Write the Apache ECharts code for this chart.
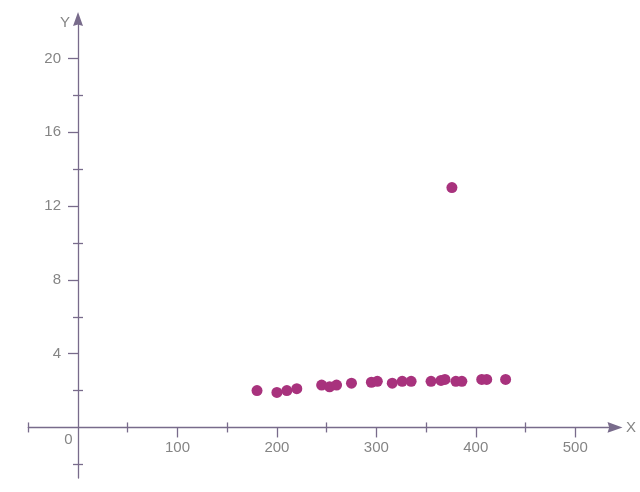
<!DOCTYPE html>
<html>
<head>
<meta charset="utf-8">
<script src="https://cdn.jsdelivr.net/npm/echarts@6/dist/echarts.min.js"></script>
<style>
html,body{margin:0;padding:0;background:#fff;}
#c{width:640px;height:492px;}
</style>
</head>
<body>
<div id="c"></div>
<script>
// ---- data ----
const xValues = [180, 200, 210, 220, 245, 253, 260, 275, 295, 301, 316, 326, 335, 355, 365, 369, 376, 380, 386, 406, 411, 430];
const yValues = [2.0, 1.9, 2.0, 2.1, 2.3, 2.2, 2.3, 2.4, 2.45, 2.5, 2.4, 2.5, 2.5, 2.5, 2.55, 2.6, 13.0, 2.5, 2.5, 2.6, 2.6, 2.6];
const xMajorTicks = [100, 200, 300, 400, 500];
const xMinorTicks = [-50, 50, 150, 250, 350, 450];
const yMajorTicks = [4, 8, 12, 16, 20];
const yMinorTicks = [-2, 2, 6, 10, 14, 18];
const xRange = [-50, 540];
const yRange = [-2.74, 22.14];
const originLabel = '0';
const xName = 'X';
const yName = 'Y';

const axisColor = '#786b8b';
const textColor = '#858585';
const font = 'Liberation Sans';
const arrow = 'path://M5,0L10,14L5,12.4L0,14Z';
const gridBox = { left: 28.3, right: 25, top: 19, bottom: 14 };

function baseAxis(range, extra) {
  return Object.assign({
    type: 'value', min: range[0], max: range[1],
    splitLine: { show: false },
    axisLabel: { show: false },
    axisLine: { show: false, onZero: true, onZeroAxisIndex: 0 },
    axisTick: { show: false }
  }, extra);
}

const points = xValues.map((x, i) => [x, yValues[i]]);

const chart = echarts.init(document.getElementById('c'), null, { renderer: 'canvas' });
const lineStyle = { color: axisColor, width: 1.3 };
chart.setOption({
  animation: false,
  backgroundColor: '#ffffff',
  grid: Object.assign({ containLabel: false, outerBoundsMode: 'none' }, gridBox),
  xAxis: [
    baseAxis(xRange, {
      position: 'bottom',
      name: xName, nameLocation: 'end', nameGap: 11,
      nameTextStyle: { color: textColor, fontFamily: font, fontSize: 15, align: 'left', verticalAlign: 'middle', padding: [25, 0, 0, 0] },
      axisLine: { show: true, onZero: true, onZeroAxisIndex: 0, symbol: ['none', arrow], symbolSize: [14, 15], lineStyle: lineStyle },
      axisTick: { show: true, length: 10, customValues: xMajorTicks, lineStyle: lineStyle }
    }),
    baseAxis(xRange, {
      position: 'bottom',
      axisTick: { show: true, length: 5, customValues: xMinorTicks, lineStyle: lineStyle }
    }),
    baseAxis(xRange, {
      position: 'bottom',
      axisTick: { show: true, inside: true, length: 5, customValues: xMinorTicks, lineStyle: lineStyle }
    })
  ],
  yAxis: [
    baseAxis(yRange, {
      position: 'left',
      name: yName, nameLocation: 'end', nameGap: -4,
      nameTextStyle: { color: textColor, fontFamily: font, fontSize: 15, align: 'right', verticalAlign: 'middle', padding: [0, 8, 0, 0] },
      axisLine: { show: true, onZero: true, onZeroAxisIndex: 0, symbol: ['none', arrow], symbolSize: [13, 14], lineStyle: lineStyle },
      axisTick: { show: true, length: 10, customValues: yMajorTicks, lineStyle: lineStyle }
    }),
    baseAxis(yRange, {
      position: 'left',
      axisTick: { show: true, length: 5, customValues: yMinorTicks, lineStyle: lineStyle }
    }),
    baseAxis(yRange, {
      position: 'left',
      axisTick: { show: true, inside: true, length: 5, customValues: yMinorTicks, lineStyle: lineStyle }
    })
  ],
  series: [{
    type: 'scatter',
    xAxisIndex: 0, yAxisIndex: 0,
    data: points,
    symbol: 'circle',
    symbolSize: 11,
    itemStyle: { color: '#a8327d', opacity: 1 },
    z: 5
  }]
});

// label-only axes placed on the zero lines
const o = chart.convertToPixel({ xAxisIndex: 0, yAxisIndex: 0 }, [0, 0]);
const H = chart.getHeight();
const xOffset = -((H - gridBox.bottom) - o[1]);
const yOffset = -(o[0] - gridBox.left);
const opt = chart.getOption();
const xs = opt.xAxis.slice();
const ys = opt.yAxis.slice();
xs.push(baseAxis(xRange, {
  position: 'bottom', offset: xOffset,
  axisLine: { show: false, onZero: false },
  axisLabel: { show: true, margin: 13, customValues: xMajorTicks, color: textColor, fontFamily: font, fontSize: 15 }
}));
ys.push(baseAxis(yRange, {
  position: 'left', offset: yOffset,
  axisLine: { show: false, onZero: false },
  axisLabel: { show: true, margin: 17, customValues: yMajorTicks, color: textColor, fontFamily: font, fontSize: 15 }
}));
chart.setOption({
  xAxis: xs,
  yAxis: ys,
  graphic: [{
    type: 'text', x: o[0] - 9.5, y: o[1] + 12.5,
    style: { text: originLabel, fill: textColor, font: '15px "' + font + '"', align: 'center', verticalAlign: 'middle' }
  }]
});
</script>
</body>
</html>
